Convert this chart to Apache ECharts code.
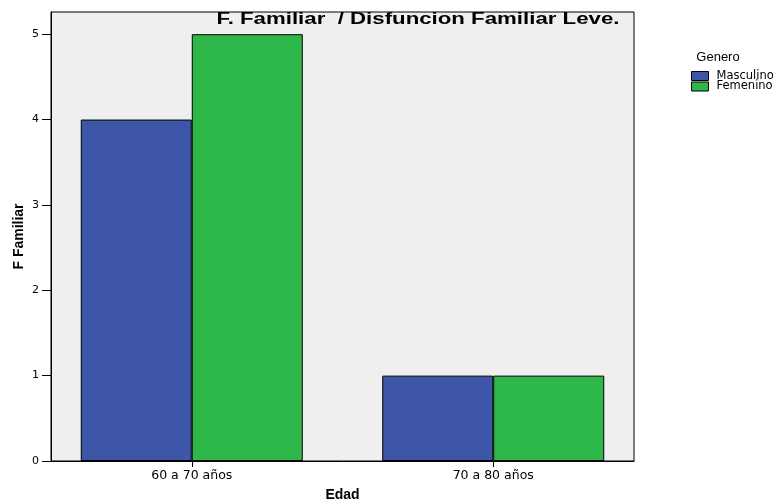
<!DOCTYPE html>
<html><head><meta charset="utf-8">
<script src="https://cdn.jsdelivr.net/npm/echarts@6/dist/echarts.min.js"></script>
<style>html,body{margin:0;padding:0;background:#fff}#c{width:783px;height:501px}</style>
</head><body><div id="c"></div>
<script>
const categories = ["60 a 70 años", "70 a 80 años"];
const masculino = [4, 1];
const femenino = [5, 1];
const yTicks = [0, 1, 2, 3, 4, 5];
const titleText = 'F. Familiar  / Disfuncion Familiar Leve.';

const chart = echarts.init(document.getElementById('c'), null, {renderer: 'canvas'});
const font = 'Liberation Sans, Arial, sans-serif';
const wide = 'DejaVu Sans, sans-serif';
chart.setOption({
  animation: false,
  backgroundColor: '#fff',
  graphic: [{
    type: 'text', x: 418, y: 20, scaleX: 1.39, z: 100,
    style: {text: titleText, x: 0, y: 0, align: 'center', verticalAlign: 'middle',
      font: 'bold 16px Liberation Sans, Arial, sans-serif', fill: '#000'}
  }, {
    type: 'text', x: 718, y: 57, z: 100,
    style: {text: 'Genero', x: 0, y: 0, align: 'center', verticalAlign: 'middle',
      font: '13px Liberation Sans, Arial, sans-serif', fill: '#000'}
  }],
  legend: {
    orient: 'vertical', left: 691, top: 70, padding: 0,
    itemWidth: 17, itemHeight: 9, itemGap: -1.5,
    icon: 'rect',
    itemStyle: {borderColor: '#000', borderWidth: 1},
    textStyle: {fontFamily: wide, fontSize: 11.5, color: '#000', padding: [0,0,0,3]},
    data: ['Masculino', 'Femenino']
  },
  grid: {left: 51, right: 149, top: 12, bottom: 40, show: true, outerBoundsMode: 'none',
    backgroundColor: '#efefef', borderColor: '#000', borderWidth: 1},
  xAxis: {
    type: 'value', min: -0.467, max: 1.467,
    name: 'Edad', nameLocation: 'middle', nameGap: 27, nameMoveOverlap: false,
    nameTextStyle: {fontFamily: font, fontWeight: 'bold', fontSize: 14, color: '#000'},
    axisLine: {show: true, onZero: false, lineStyle: {color: '#000'}},
    axisTick: {show: true, length: 6, customValues: [0, 1], lineStyle: {color: '#000'}},
    axisLabel: {customValues: [0, 1], margin: 8, fontFamily: wide, fontSize: 12.5, color: '#000',
      formatter: v => categories[Math.round(v)] || ''},
    splitLine: {show: false}
  },
  yAxis: {
    type: 'value', min: 0, max: 5.26,
    name: 'F Familiar', nameLocation: 'middle', nameGap: 25, nameMoveOverlap: false,
    nameTextStyle: {fontFamily: font, fontWeight: 'bold', fontSize: 14, color: '#000'},
    axisLine: {show: true, onZero: false, lineStyle: {color: '#000'}},
    axisTick: {show: true, length: 9, customValues: yTicks, lineStyle: {color: '#000'}},
    axisLabel: {customValues: yTicks, margin: 12, fontFamily: wide, fontSize: 11, color: '#000'},
    splitLine: {show: false}
  },
  series: [{
    name: 'Masculino', type: 'bar', barWidth: 111, barGap: '0%',
    itemStyle: {color: '#3d56a8', borderColor: '#000', borderWidth: 1},
    data: masculino.map((v, i) => [i, v])
  }, {
    name: 'Femenino', type: 'bar', barWidth: 111, barGap: '0%',
    itemStyle: {color: '#2eb84a', borderColor: '#000', borderWidth: 1},
    data: femenino.map((v, i) => [i, v])
  }]
});
</script></body></html>
